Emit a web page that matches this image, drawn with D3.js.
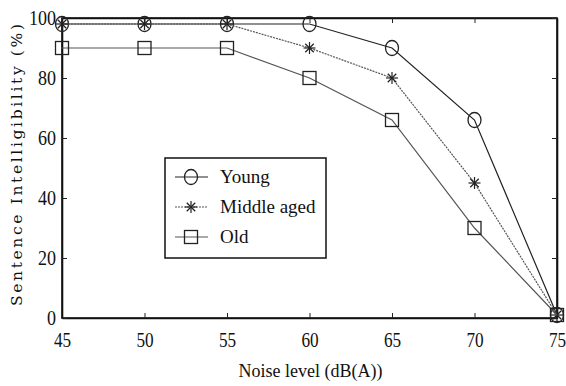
<!doctype html>
<html lang="en">
<head>
  <meta charset="utf-8">
  <script src="https://d3js.org/d3.v7.min.js"></script>
  <style>
    body { margin: 0; background: #fff; }
  </style>
</head>
<body>
  <script>
    // data
    var noise = [45, 50, 55, 60, 65, 70, 75];
    var young = [98, 98, 98, 98, 90, 66, 1];
    var middleAged = [98, 98, 98, 90, 80, 45, 1];
    var old = [90, 90, 90, 80, 66, 30, 1];
    var xTicks = [45, 50, 55, 60, 65, 70, 75];
    var yTicks = [0, 20, 40, 60, 80, 100];
    var seriesNames = ["Young", "Middle aged", "Old"];

    var serif = "Liberation Serif";
    var width = 566, height = 386;
    var margin = {left: 62, right: 9, top: 18, bottom: 68};

    var svg = d3.select("body").append("svg")
        .attr("width", width)
        .attr("height", height);

    var x = d3.scaleLinear().domain([45, 75]).range([margin.left, width - margin.right]);
    var y = d3.scaleLinear().domain([0, 100]).range([height - margin.bottom, margin.top]);

    // box
    svg.append("rect")
        .attr("x", x(45)).attr("y", y(100))
        .attr("width", x(75) - x(45)).attr("height", y(0) - y(100))
        .attr("fill", "none").attr("stroke", "#111").attr("stroke-width", 1.6);

    // axes with inward ticks
    var bottom = svg.append("g").attr("transform", "translate(0," + y(0) + ")")
        .call(d3.axisBottom(x).tickValues(xTicks).tickSizeInner(-5).tickSizeOuter(0).tickPadding(13));
    var left = svg.append("g").attr("transform", "translate(" + x(45) + ",0)")
        .call(d3.axisLeft(y).tickValues(yTicks).tickSizeInner(-5).tickSizeOuter(0).tickPadding(6));
    svg.append("g").attr("transform", "translate(0," + y(100) + ")")
        .call(d3.axisTop(x).tickValues(xTicks).tickSizeInner(-5).tickSizeOuter(0).tickFormat(""));
    svg.append("g").attr("transform", "translate(" + x(75) + ",0)")
        .call(d3.axisRight(y).tickValues(yTicks).tickSizeInner(-5).tickSizeOuter(0).tickFormat(""));

    svg.selectAll(".domain").attr("stroke", "#111").attr("stroke-width", 1.6);
    svg.selectAll(".tick line").attr("stroke", "#222");
    bottom.attr("font-family", serif).attr("font-size", 21);
    left.attr("font-family", serif).attr("font-size", 21);
    bottom.selectAll("text").attr("fill", "#111").attr("dy", "0.75em")
        .attr("textLength", function(d) { return String(d).length * 8.6; })
        .attr("lengthAdjust", "spacingAndGlyphs");
    left.selectAll("text").attr("fill", "#111")
        .attr("textLength", function(d) { return String(d).length * 9; })
        .attr("lengthAdjust", "spacingAndGlyphs");

    // axis titles
    svg.append("text")
        .attr("x", (x(45) + x(75)) / 2 + 1).attr("y", 377)
        .attr("text-anchor", "middle")
        .attr("font-family", serif)
        .attr("font-size", 18)
        .attr("fill", "#111")
        .text("Noise level (dB(A))");
    svg.append("text")
        .attr("transform", "translate(22," + 165 + ") rotate(-90)")
        .attr("text-anchor", "middle")
        .attr("textLength", 282)
        .attr("fill", "#111")
        .attr("font-family", "DejaVu Serif")
        .attr("font-size", 15.5)
        .text("Sentence Intelligibility (%)");

    var series = [
      {name: seriesNames[0], values: young, stroke: "#222", dash: null, marker: "circle"},
      {name: seriesNames[1], values: middleAged, stroke: "#555", dash: "2,1", marker: "star"},
      {name: seriesNames[2], values: old, stroke: "#555", dash: null, marker: "square"}
    ];

    var line = d3.line()
        .x(function(d, i) { return x(noise[i]); })
        .y(function(d) { return y(d); });

    function drawMarker(g, type, color) {
      if (type === "circle") {
        g.append("ellipse").attr("rx", 6.5).attr("ry", 7.5)
            .attr("fill", "none").attr("stroke", color).attr("stroke-width", 1.3);
      } else if (type === "square") {
        g.append("rect").attr("x", -6.5).attr("y", -6.5).attr("width", 13).attr("height", 13)
            .attr("fill", "none").attr("stroke", color).attr("stroke-width", 1.3);
      } else {
        var r = 6;
        [0, 45, 90, 135].forEach(function(a) {
          var rad = a * Math.PI / 180;
          g.append("line")
              .attr("x1", -r * Math.cos(rad)).attr("y1", -r * Math.sin(rad))
              .attr("x2", r * Math.cos(rad)).attr("y2", r * Math.sin(rad))
              .attr("stroke", color).attr("stroke-width", 1.2);
        });
      }
    }

    series.forEach(function(s) {
      svg.append("path")
          .datum(s.values)
          .attr("d", line)
          .attr("fill", "none")
          .attr("stroke", s.stroke)
          .attr("stroke-width", 1.2)
          .attr("stroke-dasharray", s.dash);
      s.values.forEach(function(v, i) {
        var g = svg.append("g").attr("transform", "translate(" + x(noise[i]) + "," + y(v) + ")");
        drawMarker(g, s.marker, "#222");
      });
    });

    // legend
    var legend = svg.append("g");
    legend.append("rect")
        .attr("x", 165).attr("y", 158).attr("width", 161).attr("height", 100)
        .attr("fill", "#fff").attr("stroke", "#111").attr("stroke-width", 1.5);
    series.forEach(function(s, i) {
      var ly = 177 + i * 30;
      legend.append("line")
          .attr("x1", 175).attr("x2", 208).attr("y1", ly).attr("y2", ly)
          .attr("stroke", s.stroke).attr("stroke-width", 1.2)
          .attr("stroke-dasharray", s.dash);
      var g = legend.append("g").attr("transform", "translate(191," + ly + ")");
      drawMarker(g, s.marker, "#222");
      legend.append("text")
          .attr("x", 220).attr("y", ly + 6)
          .attr("fill", "#111")
          .attr("font-family", serif)
          .attr("font-size", 19)
          .text(s.name);
    });
  </script>
</body>
</html>
